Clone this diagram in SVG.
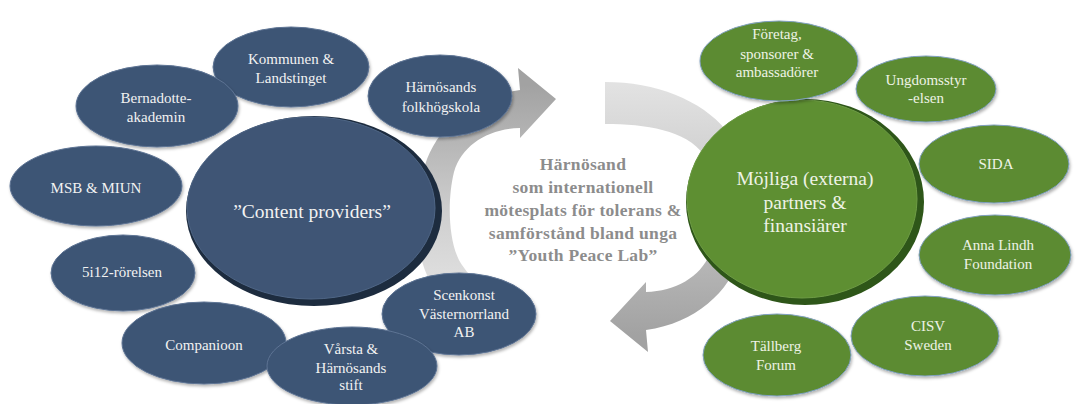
<svg xmlns="http://www.w3.org/2000/svg" width="1091" height="404" viewBox="0 0 1091 404">
<style>
.nv{fill:#3e5474;stroke:#5d7494;stroke-width:1;filter:url(#sh)}
.gr{fill:#5b8b30;stroke:#7f9fbf;stroke-width:1;filter:url(#sh)}
.t{font-family:"Liberation Serif","Times New Roman",serif;font-size:15px;fill:#f2f2f2;text-anchor:middle}
.tb{font-family:"Liberation Serif","Times New Roman",serif;font-size:19.5px;fill:#f2f2f2;text-anchor:middle}
.tg{fill:#eef3e6}
.c{font-family:"Liberation Serif","Times New Roman",serif;font-size:17.5px;font-weight:bold;fill:#8c8c8c;text-anchor:middle;letter-spacing:0.3px}
</style>
<defs>
<filter id="sh" x="-20%" y="-20%" width="140%" height="150%">
<feDropShadow dx="1" dy="2" stdDeviation="1.8" flood-color="#000" flood-opacity="0.3"/>
</filter>
<linearGradient id="ag" gradientUnits="userSpaceOnUse" x1="0" y1="320" x2="0" y2="85">
<stop offset="0" stop-color="#e8e8e8"/>
<stop offset="0.45" stop-color="#cfcfcf"/>
<stop offset="1" stop-color="#a2a2a2"/>
</linearGradient>
<linearGradient id="ag2" gradientUnits="userSpaceOnUse" x1="0" y1="335" x2="0" y2="85">
<stop offset="0" stop-color="#e2e2e2"/>
<stop offset="0.45" stop-color="#c8c8c8"/>
<stop offset="1" stop-color="#a2a2a2"/>
</linearGradient>
</defs>
<rect width="1091" height="404" fill="#ffffff"/>
<g id="connectors">
<path fill="url(#ag)" d="M518,68 L556,99 L520,138 L520,128 C488,129 462,145 454,172 C447,200 448,245 462,265 C475,285 495,295 515,298 L515,335 C480,330 450,315 435,290 C415,260 410,210 425,165 C437,128 470,97 520,90 Z"/>
<path fill="url(#ag2)" transform="rotate(180 583 210)" d="M518,68 L556,99 L520,138 L520,128 C488,129 462,145 454,172 C447,200 448,245 462,265 C480,290 520,296 561,296 L561,338 C510,338 465,320 440,290 C415,260 410,210 425,165 C437,128 470,97 520,90 Z"/>
</g>
<g id="center-text">
<text class="c" x="583" y="170">Härnösand</text>
<text class="c" x="583" y="193">som internationell</text>
<text class="c" x="583" y="216">mötesplats för tolerans &amp;</text>
<text class="c" x="583" y="239">samförstånd bland unga</text>
<text class="c" x="583" y="261">”Youth Peace Lab”</text>
</g>
<g id="content-providers">
<ellipse cx="314" cy="211" rx="128" ry="95" fill="#1d2c3f"/>
<ellipse cx="311" cy="208" rx="124" ry="91" fill="#3f5575" stroke="#4f6686" stroke-width="1"/>
<text class="tb" x="312" y="218">”Content providers”</text>
</g>
<g id="kommunen"><ellipse class="nv" cx="291" cy="67" rx="78" ry="40"/><text class="t" x="291" y="64">Kommunen &amp;</text><text class="t" x="291" y="83">Landstinget</text></g>
<g id="bernadotte"><ellipse class="nv" cx="157" cy="106" rx="81" ry="41"/><text class="t" x="156" y="103">Bernadotte-</text><text class="t" x="156" y="122">akademin</text></g>
<g id="folkhogskola"><ellipse class="nv" cx="440" cy="96" rx="72" ry="41"/><text class="t" x="441" y="92">Härnösands</text><text class="t" x="441" y="112">folkhögskola</text></g>
<g id="msb"><ellipse class="nv" cx="96" cy="186" rx="86" ry="40"/><text class="t" x="96" y="193">MSB &amp; MIUN</text></g>
<g id="rorelsen"><ellipse class="nv" cx="123" cy="273" rx="72" ry="38"/><text class="t" x="122" y="277">5i12-rörelsen</text></g>
<g id="companioon"><ellipse class="nv" cx="204" cy="343" rx="82" ry="41"/><text class="t" x="204" y="350">Companioon</text></g>
<g id="scenkonst"><ellipse class="nv" cx="459" cy="314" rx="77" ry="41"/><text class="t" x="464" y="300">Scenkonst</text><text class="t" x="464" y="319">Västernorrland</text><text class="t" x="464" y="337">AB</text></g>
<g id="varsta"><ellipse class="nv" cx="352" cy="366" rx="85" ry="39"/><text class="t" x="351" y="354">Vårsta &amp;</text><text class="t" x="351" y="373">Härnösands</text><text class="t" x="351" y="390">stift</text></g>
<g id="partners">
<ellipse cx="805" cy="202" rx="119" ry="103" fill="#2e5619"/>
<ellipse cx="802" cy="199" rx="115" ry="99" fill="#5e8f32" stroke="#6e9c45" stroke-width="1"/>
<text class="tb tg" x="805" y="185">Möjliga (externa)</text>
<text class="tb tg" x="805" y="209">partners &amp;</text>
<text class="tb tg" x="805" y="232">finansiärer</text>
</g>
<g id="foretag"><ellipse class="gr" cx="779" cy="61" rx="79" ry="40"/><text class="t tg" x="777" y="39">Företag,</text><text class="t tg" x="777" y="59">sponsorer &amp;</text><text class="t tg" x="777" y="77">ambassadörer</text></g>
<g id="ungdom"><ellipse class="gr" cx="926" cy="89" rx="70" ry="33"/><text class="t tg" x="926" y="85">Ungdomsstyr</text><text class="t tg" x="926" y="103">-elsen</text></g>
<g id="sida"><ellipse class="gr" cx="994" cy="164" rx="75" ry="39"/><text class="t tg" x="996" y="169">SIDA</text></g>
<g id="annalindh"><ellipse class="gr" cx="995" cy="255" rx="76" ry="40"/><text class="t tg" x="998" y="250">Anna Lindh</text><text class="t tg" x="998" y="269">Foundation</text></g>
<g id="tallberg"><ellipse class="gr" cx="777" cy="355" rx="74" ry="41"/><text class="t tg" x="776" y="351">Tällberg</text><text class="t tg" x="776" y="370">Forum</text></g>
<g id="cisv"><ellipse class="gr" cx="925" cy="336" rx="74" ry="40"/><text class="t tg" x="928" y="331">CISV</text><text class="t tg" x="928" y="350">Sweden</text></g>
</svg>
